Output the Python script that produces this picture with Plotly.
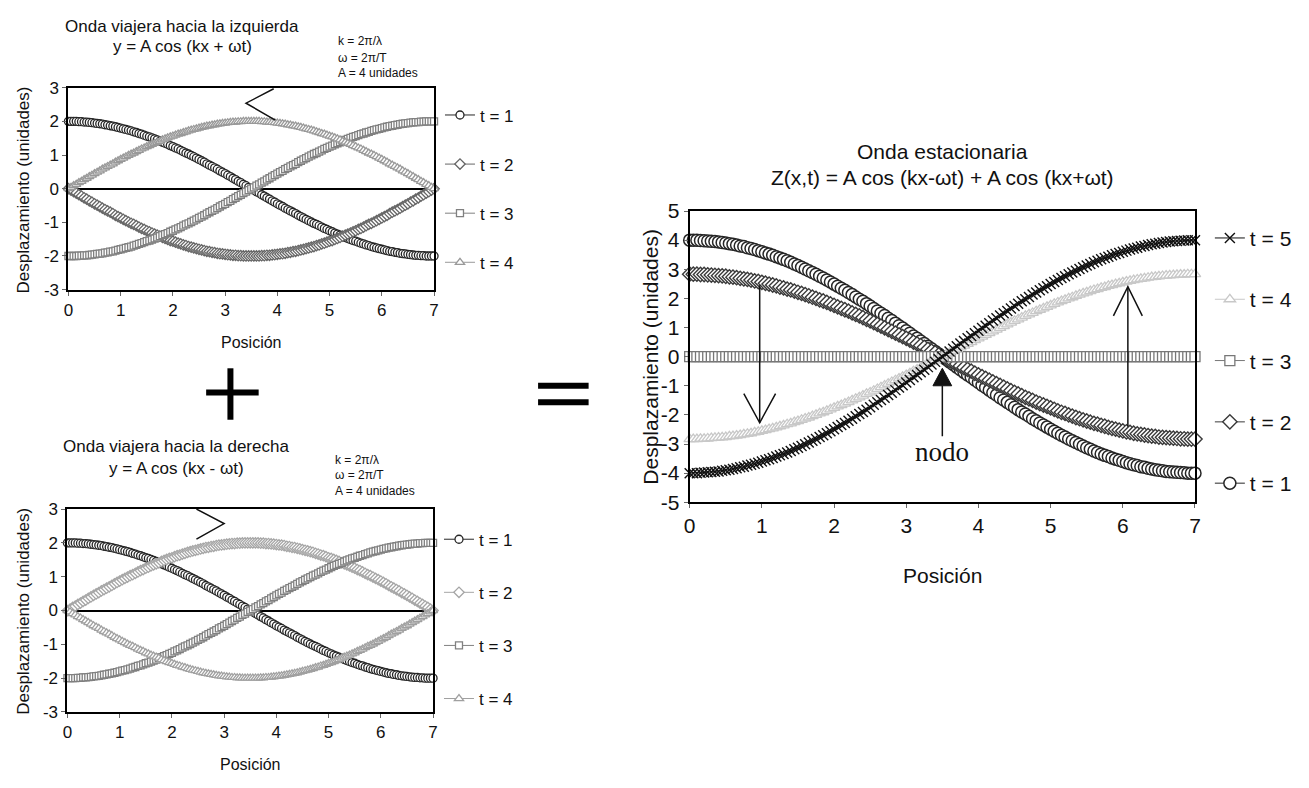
import plotly.graph_objects as go

W, H = 1309, 788
FONT = "Liberation Sans, Arial, sans-serif"

# ---------------------------------------------------------------- data
posicion = [0.00, 0.05, 0.10, 0.15, 0.20, 0.25, 0.30, 0.35, 0.40, 0.45,
            0.50, 0.55, 0.60, 0.65, 0.70, 0.75, 0.80, 0.85, 0.90, 0.95,
            1.00, 1.05, 1.10, 1.15, 1.20, 1.25, 1.30, 1.35, 1.40, 1.45,
            1.50, 1.55, 1.60, 1.65, 1.70, 1.75, 1.80, 1.85, 1.90, 1.95,
            2.00, 2.05, 2.10, 2.15, 2.20, 2.25, 2.30, 2.35, 2.40, 2.45,
            2.50, 2.55, 2.60, 2.65, 2.70, 2.75, 2.80, 2.85, 2.90, 2.95,
            3.00, 3.05, 3.10, 3.15, 3.20, 3.25, 3.30, 3.35, 3.40, 3.45,
            3.50, 3.55, 3.60, 3.65, 3.70, 3.75, 3.80, 3.85, 3.90, 3.95,
            4.00, 4.05, 4.10, 4.15, 4.20, 4.25, 4.30, 4.35, 4.40, 4.45,
            4.50, 4.55, 4.60, 4.65, 4.70, 4.75, 4.80, 4.85, 4.90, 4.95,
            5.00, 5.05, 5.10, 5.15, 5.20, 5.25, 5.30, 5.35, 5.40, 5.45,
            5.50, 5.55, 5.60, 5.65, 5.70, 5.75, 5.80, 5.85, 5.90, 5.95,
            6.00, 6.05, 6.10, 6.15, 6.20, 6.25, 6.30, 6.35, 6.40, 6.45,
            6.50, 6.55, 6.60, 6.65, 6.70, 6.75, 6.80, 6.85, 6.90, 6.95,
            7.00]

# travelling waves (both panels use these four profiles)
onda_coseno = [2.00, 2.00, 2.00, 2.00, 1.99, 1.99, 1.98, 1.98, 1.97, 1.96,
               1.95, 1.94, 1.93, 1.92, 1.90, 1.89, 1.87, 1.86, 1.84, 1.82,
               1.80, 1.78, 1.76, 1.74, 1.72, 1.69, 1.67, 1.64, 1.62, 1.59,
               1.56, 1.54, 1.51, 1.48, 1.45, 1.41, 1.38, 1.35, 1.32, 1.28,
               1.25, 1.21, 1.18, 1.14, 1.10, 1.06, 1.03, 0.99, 0.95, 0.91,
               0.87, 0.83, 0.79, 0.74, 0.70, 0.66, 0.62, 0.58, 0.53, 0.49,
               0.45, 0.40, 0.36, 0.31, 0.27, 0.22, 0.18, 0.13, 0.09, 0.04,
               0.00,
               -0.04, -0.09, -0.13, -0.18, -0.22, -0.27, -0.31, -0.36, -0.40, -0.45,
               -0.49, -0.53, -0.58, -0.62, -0.66, -0.70, -0.74, -0.79, -0.83, -0.87,
               -0.91, -0.95, -0.99, -1.03, -1.06, -1.10, -1.14, -1.18, -1.21, -1.25,
               -1.28, -1.32, -1.35, -1.38, -1.41, -1.45, -1.48, -1.51, -1.54, -1.56,
               -1.59, -1.62, -1.64, -1.67, -1.69, -1.72, -1.74, -1.76, -1.78, -1.80,
               -1.82, -1.84, -1.86, -1.87, -1.89, -1.90, -1.92, -1.93, -1.94, -1.95,
               -1.96, -1.97, -1.98, -1.98, -1.99, -1.99, -2.00, -2.00, -2.00, -2.00]
onda_coseno_inv = [-2.00, -2.00, -2.00, -2.00, -1.99, -1.99, -1.98, -1.98, -1.97, -1.96,
                   -1.95, -1.94, -1.93, -1.92, -1.90, -1.89, -1.87, -1.86, -1.84, -1.82,
                   -1.80, -1.78, -1.76, -1.74, -1.72, -1.69, -1.67, -1.64, -1.62, -1.59,
                   -1.56, -1.54, -1.51, -1.48, -1.45, -1.41, -1.38, -1.35, -1.32, -1.28,
                   -1.25, -1.21, -1.18, -1.14, -1.10, -1.06, -1.03, -0.99, -0.95, -0.91,
                   -0.87, -0.83, -0.79, -0.74, -0.70, -0.66, -0.62, -0.58, -0.53, -0.49,
                   -0.45, -0.40, -0.36, -0.31, -0.27, -0.22, -0.18, -0.13, -0.09, -0.04,
                   0.00,
                   0.04, 0.09, 0.13, 0.18, 0.22, 0.27, 0.31, 0.36, 0.40, 0.45,
                   0.49, 0.53, 0.58, 0.62, 0.66, 0.70, 0.74, 0.79, 0.83, 0.87,
                   0.91, 0.95, 0.99, 1.03, 1.06, 1.10, 1.14, 1.18, 1.21, 1.25,
                   1.28, 1.32, 1.35, 1.38, 1.41, 1.45, 1.48, 1.51, 1.54, 1.56,
                   1.59, 1.62, 1.64, 1.67, 1.69, 1.72, 1.74, 1.76, 1.78, 1.80,
                   1.82, 1.84, 1.86, 1.87, 1.89, 1.90, 1.92, 1.93, 1.94, 1.95,
                   1.96, 1.97, 1.98, 1.98, 1.99, 1.99, 2.00, 2.00, 2.00, 2.00]
onda_seno = [0.00, 0.04, 0.09, 0.13, 0.18, 0.22, 0.27, 0.31, 0.36, 0.40,
             0.45, 0.49, 0.53, 0.58, 0.62, 0.66, 0.70, 0.74, 0.79, 0.83,
             0.87, 0.91, 0.95, 0.99, 1.03, 1.06, 1.10, 1.14, 1.18, 1.21,
             1.25, 1.28, 1.32, 1.35, 1.38, 1.41, 1.45, 1.48, 1.51, 1.54,
             1.56, 1.59, 1.62, 1.64, 1.67, 1.69, 1.72, 1.74, 1.76, 1.78,
             1.80, 1.82, 1.84, 1.86, 1.87, 1.89, 1.90, 1.92, 1.93, 1.94,
             1.95, 1.96, 1.97, 1.98, 1.98, 1.99, 1.99, 2.00, 2.00, 2.00,
             2.00,
             2.00, 2.00, 2.00, 1.99, 1.99, 1.98, 1.98, 1.97, 1.96, 1.95,
             1.94, 1.93, 1.92, 1.90, 1.89, 1.87, 1.86, 1.84, 1.82, 1.80,
             1.78, 1.76, 1.74, 1.72, 1.69, 1.67, 1.64, 1.62, 1.59, 1.56,
             1.54, 1.51, 1.48, 1.45, 1.41, 1.38, 1.35, 1.32, 1.28, 1.25,
             1.21, 1.18, 1.14, 1.10, 1.06, 1.03, 0.99, 0.95, 0.91, 0.87,
             0.83, 0.79, 0.74, 0.70, 0.66, 0.62, 0.58, 0.53, 0.49, 0.45,
             0.40, 0.36, 0.31, 0.27, 0.22, 0.18, 0.13, 0.09, 0.04, 0.00]
onda_seno_inv = [0.00, -0.04, -0.09, -0.13, -0.18, -0.22, -0.27, -0.31, -0.36, -0.40,
                 -0.45, -0.49, -0.53, -0.58, -0.62, -0.66, -0.70, -0.74, -0.79, -0.83,
                 -0.87, -0.91, -0.95, -0.99, -1.03, -1.06, -1.10, -1.14, -1.18, -1.21,
                 -1.25, -1.28, -1.32, -1.35, -1.38, -1.41, -1.45, -1.48, -1.51, -1.54,
                 -1.56, -1.59, -1.62, -1.64, -1.67, -1.69, -1.72, -1.74, -1.76, -1.78,
                 -1.80, -1.82, -1.84, -1.86, -1.87, -1.89, -1.90, -1.92, -1.93, -1.94,
                 -1.95, -1.96, -1.97, -1.98, -1.98, -1.99, -1.99, -2.00, -2.00, -2.00,
                 -2.00,
                 -2.00, -2.00, -2.00, -1.99, -1.99, -1.98, -1.98, -1.97, -1.96, -1.95,
                 -1.94, -1.93, -1.92, -1.90, -1.89, -1.87, -1.86, -1.84, -1.82, -1.80,
                 -1.78, -1.76, -1.74, -1.72, -1.69, -1.67, -1.64, -1.62, -1.59, -1.56,
                 -1.54, -1.51, -1.48, -1.45, -1.41, -1.38, -1.35, -1.32, -1.28, -1.25,
                 -1.21, -1.18, -1.14, -1.10, -1.06, -1.03, -0.99, -0.95, -0.91, -0.87,
                 -0.83, -0.79, -0.74, -0.70, -0.66, -0.62, -0.58, -0.53, -0.49, -0.45,
                 -0.40, -0.36, -0.31, -0.27, -0.22, -0.18, -0.13, -0.09, -0.04, 0.00]

izq_t1, izq_t2, izq_t3, izq_t4 = onda_coseno, onda_seno_inv, onda_coseno_inv, onda_seno
der_t1, der_t2, der_t3, der_t4 = onda_coseno, onda_seno, onda_coseno_inv, onda_seno_inv

# standing wave
est_t1 = [4.00, 4.00, 4.00, 3.99, 3.98, 3.97, 3.96, 3.95, 3.94, 3.92,
          3.90, 3.88, 3.86, 3.83, 3.80, 3.78, 3.74, 3.71, 3.68, 3.64,
          3.60, 3.56, 3.52, 3.48, 3.43, 3.39, 3.34, 3.29, 3.24, 3.18,
          3.13, 3.07, 3.01, 2.95, 2.89, 2.83, 2.76, 2.70, 2.63, 2.56,
          2.49, 2.42, 2.35, 2.28, 2.20, 2.13, 2.05, 1.97, 1.90, 1.82,
          1.74, 1.65, 1.57, 1.49, 1.41, 1.32, 1.24, 1.15, 1.06, 0.98,
          0.89, 0.80, 0.71, 0.63, 0.54, 0.45, 0.36, 0.27, 0.18, 0.09,
          0.00,
          -0.09, -0.18, -0.27, -0.36, -0.45, -0.54, -0.63, -0.71, -0.80, -0.89,
          -0.98, -1.06, -1.15, -1.24, -1.32, -1.41, -1.49, -1.57, -1.65, -1.74,
          -1.82, -1.90, -1.97, -2.05, -2.13, -2.20, -2.28, -2.35, -2.42, -2.49,
          -2.56, -2.63, -2.70, -2.76, -2.83, -2.89, -2.95, -3.01, -3.07, -3.13,
          -3.18, -3.24, -3.29, -3.34, -3.39, -3.43, -3.48, -3.52, -3.56, -3.60,
          -3.64, -3.68, -3.71, -3.74, -3.78, -3.80, -3.83, -3.86, -3.88, -3.90,
          -3.92, -3.94, -3.95, -3.96, -3.97, -3.98, -3.99, -4.00, -4.00, -4.00]
est_t2 = [2.83, 2.83, 2.83, 2.82, 2.82, 2.81, 2.80, 2.79, 2.78, 2.77,
          2.76, 2.74, 2.73, 2.71, 2.69, 2.67, 2.65, 2.63, 2.60, 2.58,
          2.55, 2.52, 2.49, 2.46, 2.43, 2.39, 2.36, 2.32, 2.29, 2.25,
          2.21, 2.17, 2.13, 2.09, 2.04, 2.00, 1.95, 1.91, 1.86, 1.81,
          1.76, 1.71, 1.66, 1.61, 1.56, 1.50, 1.45, 1.40, 1.34, 1.28,
          1.23, 1.17, 1.11, 1.05, 0.99, 0.93, 0.87, 0.81, 0.75, 0.69,
          0.63, 0.57, 0.50, 0.44, 0.38, 0.32, 0.25, 0.19, 0.13, 0.06,
          0.00,
          -0.06, -0.13, -0.19, -0.25, -0.32, -0.38, -0.44, -0.50, -0.57, -0.63,
          -0.69, -0.75, -0.81, -0.87, -0.93, -0.99, -1.05, -1.11, -1.17, -1.23,
          -1.28, -1.34, -1.40, -1.45, -1.50, -1.56, -1.61, -1.66, -1.71, -1.76,
          -1.81, -1.86, -1.91, -1.95, -2.00, -2.04, -2.09, -2.13, -2.17, -2.21,
          -2.25, -2.29, -2.32, -2.36, -2.39, -2.43, -2.46, -2.49, -2.52, -2.55,
          -2.58, -2.60, -2.63, -2.65, -2.67, -2.69, -2.71, -2.73, -2.74, -2.76,
          -2.77, -2.78, -2.79, -2.80, -2.81, -2.82, -2.82, -2.83, -2.83, -2.83]
est_t3 = [0.00, 0.00, 0.00, 0.00, 0.00, 0.00, 0.00, 0.00, 0.00, 0.00,
          0.00, 0.00, 0.00, 0.00, 0.00, 0.00, 0.00, 0.00, 0.00, 0.00,
          0.00, 0.00, 0.00, 0.00, 0.00, 0.00, 0.00, 0.00, 0.00, 0.00,
          0.00, 0.00, 0.00, 0.00, 0.00, 0.00, 0.00, 0.00, 0.00, 0.00,
          0.00, 0.00, 0.00, 0.00, 0.00, 0.00, 0.00, 0.00, 0.00, 0.00,
          0.00, 0.00, 0.00, 0.00, 0.00, 0.00, 0.00, 0.00, 0.00, 0.00,
          0.00, 0.00, 0.00, 0.00, 0.00, 0.00, 0.00, 0.00, 0.00, 0.00,
          0.00,
          0.00, 0.00, 0.00, 0.00, 0.00, 0.00, 0.00, 0.00, 0.00, 0.00,
          0.00, 0.00, 0.00, 0.00, 0.00, 0.00, 0.00, 0.00, 0.00, 0.00,
          0.00, 0.00, 0.00, 0.00, 0.00, 0.00, 0.00, 0.00, 0.00, 0.00,
          0.00, 0.00, 0.00, 0.00, 0.00, 0.00, 0.00, 0.00, 0.00, 0.00,
          0.00, 0.00, 0.00, 0.00, 0.00, 0.00, 0.00, 0.00, 0.00, 0.00,
          0.00, 0.00, 0.00, 0.00, 0.00, 0.00, 0.00, 0.00, 0.00, 0.00,
          0.00, 0.00, 0.00, 0.00, 0.00, 0.00, 0.00, 0.00, 0.00, 0.00]
est_t4 = [-2.83, -2.83, -2.83, -2.82, -2.82, -2.81, -2.80, -2.79, -2.78, -2.77,
          -2.76, -2.74, -2.73, -2.71, -2.69, -2.67, -2.65, -2.63, -2.60, -2.58,
          -2.55, -2.52, -2.49, -2.46, -2.43, -2.39, -2.36, -2.32, -2.29, -2.25,
          -2.21, -2.17, -2.13, -2.09, -2.04, -2.00, -1.95, -1.91, -1.86, -1.81,
          -1.76, -1.71, -1.66, -1.61, -1.56, -1.50, -1.45, -1.40, -1.34, -1.28,
          -1.23, -1.17, -1.11, -1.05, -0.99, -0.93, -0.87, -0.81, -0.75, -0.69,
          -0.63, -0.57, -0.50, -0.44, -0.38, -0.32, -0.25, -0.19, -0.13, -0.06,
          0.00,
          0.06, 0.13, 0.19, 0.25, 0.32, 0.38, 0.44, 0.50, 0.57, 0.63,
          0.69, 0.75, 0.81, 0.87, 0.93, 0.99, 1.05, 1.11, 1.17, 1.23,
          1.28, 1.34, 1.40, 1.45, 1.50, 1.56, 1.61, 1.66, 1.71, 1.76,
          1.81, 1.86, 1.91, 1.95, 2.00, 2.04, 2.09, 2.13, 2.17, 2.21,
          2.25, 2.29, 2.32, 2.36, 2.39, 2.43, 2.46, 2.49, 2.52, 2.55,
          2.58, 2.60, 2.63, 2.65, 2.67, 2.69, 2.71, 2.73, 2.74, 2.76,
          2.77, 2.78, 2.79, 2.80, 2.81, 2.82, 2.82, 2.83, 2.83, 2.83]
est_t5 = [-4.00, -4.00, -4.00, -3.99, -3.98, -3.97, -3.96, -3.95, -3.94, -3.92,
          -3.90, -3.88, -3.86, -3.83, -3.80, -3.78, -3.74, -3.71, -3.68, -3.64,
          -3.60, -3.56, -3.52, -3.48, -3.43, -3.39, -3.34, -3.29, -3.24, -3.18,
          -3.13, -3.07, -3.01, -2.95, -2.89, -2.83, -2.76, -2.70, -2.63, -2.56,
          -2.49, -2.42, -2.35, -2.28, -2.20, -2.13, -2.05, -1.97, -1.90, -1.82,
          -1.74, -1.65, -1.57, -1.49, -1.41, -1.32, -1.24, -1.15, -1.06, -0.98,
          -0.89, -0.80, -0.71, -0.63, -0.54, -0.45, -0.36, -0.27, -0.18, -0.09,
          0.00,
          0.09, 0.18, 0.27, 0.36, 0.45, 0.54, 0.63, 0.71, 0.80, 0.89,
          0.98, 1.06, 1.15, 1.24, 1.32, 1.41, 1.49, 1.57, 1.65, 1.74,
          1.82, 1.90, 1.97, 2.05, 2.13, 2.20, 2.28, 2.35, 2.42, 2.49,
          2.56, 2.63, 2.70, 2.76, 2.83, 2.89, 2.95, 3.01, 3.07, 3.13,
          3.18, 3.24, 3.29, 3.34, 3.39, 3.43, 3.48, 3.52, 3.56, 3.60,
          3.64, 3.68, 3.71, 3.74, 3.78, 3.80, 3.83, 3.86, 3.88, 3.90,
          3.92, 3.94, 3.95, 3.96, 3.97, 3.98, 3.99, 4.00, 4.00, 4.00]

etiquetas_t = ["t = 1", "t = 2", "t = 3", "t = 4", "t = 5"]
ticks_x = [0, 1, 2, 3, 4, 5, 6, 7]
ticks_y_small = [-3, -2, -1, 0, 1, 2, 3]
ticks_y_big = [-5, -4, -3, -2, -1, 0, 1, 2, 3, 4, 5]


def px(x):
    return x / W


def py(y):
    return 1 - y / H


fig = go.Figure()


def serie(x, y, name, xa, ya, leg, symbol, color, size, lw=1.3, rank=1000):
    fig.add_trace(go.Scatter(
        x=x, y=y, name=name, mode="lines+markers",
        xaxis=xa, yaxis=ya, legend=leg, legendgroup=leg + name, legendrank=rank,
        line=dict(color=color, width=1),
        marker=dict(symbol=symbol, size=size, color="white",
                    line=dict(color=color, width=lw)),
        cliponaxis=False, hoverinfo="skip"))


# left-travelling wave panel
serie(posicion, izq_t1, etiquetas_t[0], "x", "y", "legend", "circle", "#262626", 8, 1.3, 1)
serie(posicion, izq_t2, etiquetas_t[1], "x", "y", "legend", "diamond", "#666666", 8, 1.3, 2)
serie(posicion, izq_t3, etiquetas_t[2], "x", "y", "legend", "square", "#808080", 7, 1.3, 3)
serie(posicion, izq_t4, etiquetas_t[3], "x", "y", "legend", "triangle-up", "#999999", 8, 1.3, 4)

# right-travelling wave panel
serie(posicion, der_t1, etiquetas_t[0], "x2", "y2", "legend2", "circle", "#262626", 8, 1.3, 1)
serie(posicion, der_t2, etiquetas_t[1], "x2", "y2", "legend2", "diamond", "#a6a6a6", 8, 1.3, 2)
serie(posicion, der_t3, etiquetas_t[2], "x2", "y2", "legend2", "square", "#808080", 7, 1.3, 3)
serie(posicion, der_t4, etiquetas_t[3], "x2", "y2", "legend2", "triangle-up", "#a0a0a0", 8, 1.3, 4)

# standing wave panel (legend listed from t = 5 down to t = 1)
serie(posicion, est_t1, etiquetas_t[0], "x3", "y3", "legend3", "circle", "#262626", 12, 1.5, 5)
serie(posicion, est_t2, etiquetas_t[1], "x3", "y3", "legend3", "diamond", "#3a3a3a", 11, 1.4, 4)
serie(posicion, est_t3, etiquetas_t[2], "x3", "y3", "legend3", "square", "#777777", 10, 1.3, 3)
serie(posicion, est_t4, etiquetas_t[3], "x3", "y3", "legend3", "triangle-up", "#c8c8c8", 10, 1.3, 2)
serie(posicion, est_t5, etiquetas_t[4], "x3", "y3", "legend3", "x-thin", "#111111", 10, 1.4, 1)


def xaxis(dom, anchor, size):
    return dict(domain=dom, anchor=anchor, range=[0, 7], tickvals=ticks_x,
                ticktext=[str(v) for v in ticks_x], showline=True,
                linecolor="black", linewidth=2, mirror=True, ticks="outside",
                ticklen=4, tickcolor="#666", showgrid=False, zeroline=False,
                tickfont=dict(size=size, color="#111"), fixedrange=True)


def yaxis(dom, anchor, rng, vals, size, zero):
    return dict(domain=dom, anchor=anchor, range=rng, tickvals=vals,
                ticktext=[str(v) for v in vals], showline=True,
                linecolor="black", linewidth=2, mirror=True, ticks="outside",
                ticklen=4, tickcolor="#666", showgrid=False, zeroline=zero,
                zerolinecolor="black", zerolinewidth=1.5,
                tickfont=dict(size=size, color="#111"), fixedrange=True)


# panel rectangles (pixels: left, right, top, bottom)
P1 = (63, 432, 78, 286)
P2 = (62, 431, 512, 721)
P3 = (690, 1200, 205, 505)


def dom(p):
    return [px(p[0]), px(p[1])], [py(p[3]), py(p[2])]


d1x, d1y = dom(P1)
d2x, d2y = dom(P2)
d3x, d3y = dom(P3)


def note(text, x, y, size, angle=0, family=FONT, anchor="center"):
    return dict(text=text, x=px(x), y=py(y), xref="paper", yref="paper",
                showarrow=False, xanchor=anchor, yanchor="middle",
                textangle=angle, font=dict(size=size, family=family, color="#111"))


annotations = [
    note("Onda viajera hacia la izquierda", 178, 15, 17),
    note("y = A cos (kx + ωt)", 178, 36, 17),
    note("k = 2π/λ", 333, 30, 12, anchor="left"),
    note("ω = 2π/T", 333, 47, 12, anchor="left"),
    note("A = 4 unidades", 333, 63, 12, anchor="left"),
    note("Desplazamiento (unidades)", 18, 183, 17, angle=-90),
    note("Posición", 247, 340, 16),

    note("Onda viajera hacia la derecha", 172, 448, 17),
    note("y = A cos (kx - ωt)", 172, 470, 17),
    note("k = 2π/λ", 330, 461, 12, anchor="left"),
    note("ω = 2π/T", 330, 477, 12, anchor="left"),
    note("A = 4 unidades", 330, 493, 12, anchor="left"),
    note("Desplazamiento (unidades)", 18, 617, 17, angle=-90),
    note("Posición", 246, 775, 16),

    note("Onda estacionaria", 945, 144, 21),
    note("Z(x,t) = A cos (kx-ωt) + A cos (kx+ωt)", 945, 170, 21),
    note("Desplazamiento (unidades)", 651, 355, 21, angle=-90),
    note("Posición", 945, 580, 21),
    dict(text="nodo", x=3.5, y=-3.27, xref="x3", yref="y3", showarrow=False,
         xanchor="center", yanchor="middle",
         font=dict(size=27, family="Liberation Serif, Times New Roman, serif", color="#111")),
]


def seg(x0, y0, x1, y1, w=6):
    return dict(type="line", xref="paper", yref="paper", x0=px(x0), y0=py(y0),
                x1=px(x1), y1=py(y1), line=dict(color="black", width=w))


def path(d, xa, ya, w=1.5, fill=None):
    s = dict(type="path", path=d, xref=xa, yref=ya, line=dict(color="#111", width=w))
    if fill:
        s["fillcolor"] = fill
    return s


shapes = [
    # "+" between the two travelling-wave panels, "=" before the standing wave
    seg(226.5, 367, 226.5, 420), seg(202, 392, 255, 392),
    seg(537, 385, 588, 385), seg(537, 402, 588, 402),
    # direction marks on the travelling waves
    path("M 3.93,2.97 L 3.40,2.54 L 3.96,2.04", "x", "y"),
    path("M 2.47,3.00 L 3.00,2.57 L 2.47,2.11", "x2", "y2"),
    # arrows on the standing wave
    path("M 0.97,2.45 L 0.97,-2.27", "x3", "y3"),
    path("M 0.75,-1.27 L 0.97,-2.27 L 1.19,-1.27", "x3", "y3"),
    path("M 6.07,-2.40 L 6.07,2.40", "x3", "y3"),
    path("M 5.87,1.40 L 6.07,2.40 L 6.27,1.40", "x3", "y3"),
    path("M 3.50,-2.73 L 3.50,-1.00", "x3", "y3"),
    path("M 3.37,-1.00 L 3.50,-0.40 L 3.63,-1.00 Z", "x3", "y3", w=1, fill="#111"),
]


def legend(x, y, size, gap):
    return dict(x=px(x), y=py(y), xanchor="left", yanchor="top",
                xref="paper", yref="paper", bgcolor="rgba(0,0,0,0)",
                font=dict(size=size, family=FONT, color="#111"),
                tracegroupgap=gap, traceorder="grouped", itemwidth=30,
                itemclick=False, itemdoubleclick=False)


fig.update_layout(
    width=W, height=H, margin=dict(l=0, r=0, t=0, b=0),
    paper_bgcolor="white", plot_bgcolor="white",
    font=dict(family=FONT, color="#111"),
    xaxis=xaxis(d1x, "y", 17), yaxis=yaxis(d1y, "x", [-3, 3], ticks_y_small, 17, True),
    xaxis2=xaxis(d2x, "y2", 17), yaxis2=yaxis(d2y, "x2", [-3, 3], ticks_y_small, 17, True),
    xaxis3=xaxis(d3x, "y3", 21), yaxis3=yaxis(d3y, "x3", [-5, 5], ticks_y_big, 21, False),
    legend=legend(438, 88, 17, 24),
    legend2=legend(437, 525, 17, 28),
    legend3=legend(1215, 212, 21, 31),
    annotations=annotations, shapes=shapes, showlegend=True,
)

fig.write_html("out.html")
